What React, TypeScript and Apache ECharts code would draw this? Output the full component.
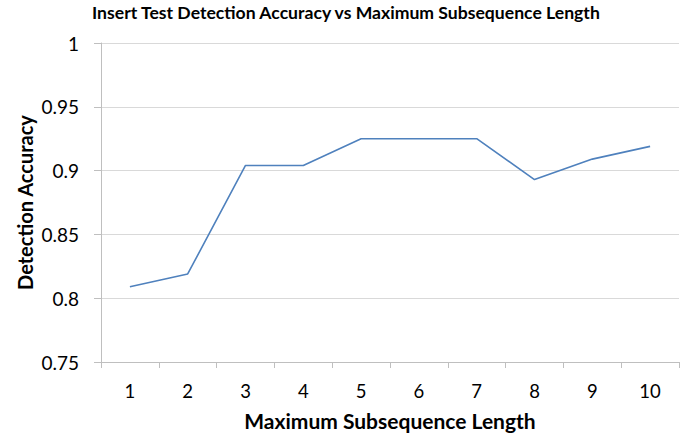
import React, { useEffect, useRef } from "react";
import * as echarts from "echarts";

const categories = ["1", "2", "3", "4", "5", "6", "7", "8", "9", "10"];
const accuracy = [0.809, 0.819, 0.904, 0.904, 0.925, 0.925, 0.925, 0.893, 0.909, 0.919];
const titleText = "Insert Test Detection Accuracy vs Maximum Subsequence Length";
const xName = "Maximum Subsequence Length";
const yName = "Detection Accuracy";

const FONT = "Lato, 'Open Sans', sans-serif";

export default function App() {
  const ref = useRef<HTMLDivElement>(null);
  useEffect(() => {
    if (!ref.current) return;
    const chart = echarts.init(ref.current, undefined, { renderer: "svg" });
    chart.setOption({
      animation: false,
      backgroundColor: "#ffffff",
      title: {
        text: titleText,
        left: 92,
        top: 3,
        padding: 0,
        textStyle: { fontFamily: FONT, fontSize: 17.6, fontWeight: "bold", color: "#000" },
      },
      grid: { left: 101, right: 7, top: 43, bottom: 71, containLabel: false, outerBoundsMode: "none" },
      xAxis: {
        type: "category",
        data: categories,
        boundaryGap: true,
        name: xName,
        nameLocation: "middle",
        nameGap: 48,
        nameMoveOverlap: false,
        nameTextStyle: { fontFamily: FONT, fontSize: 21, fontWeight: "bold", color: "#000" },
        axisLine: { lineStyle: { color: "#bfbfbf" } },
        axisTick: { show: true, length: 6, lineStyle: { color: "#bfbfbf" } },
        axisLabel: { fontFamily: FONT, fontSize: 18.5, color: "#000", margin: 19 },
      },
      yAxis: {
        type: "value",
        min: 0.75,
        max: 1,
        interval: 0.05,
        name: yName,
        nameLocation: "middle",
        nameGap: 66,
        nameMoveOverlap: false,
        nameTextStyle: { fontFamily: FONT, fontSize: 20, fontWeight: "bold", color: "#000" },
        axisLine: { show: true, lineStyle: { color: "#bfbfbf" } },
        axisTick: { show: true, length: 7, lineStyle: { color: "#bfbfbf" } },
        axisLabel: {
          fontFamily: FONT,
          fontSize: 19,
          color: "#000",
          margin: 22,
          formatter: (v: number) => String(parseFloat(v.toFixed(2))),
        },
        splitLine: { lineStyle: { color: "#d9d9d9" } },
      },
      series: [
        {
          type: "line",
          data: accuracy,
          symbol: "none",
          lineStyle: { color: "#4f81bd", width: 1.6 },
        },
      ],
    });
    return () => chart.dispose();
  }, []);
  return <div ref={ref} style={{ width: 686, height: 433, position: "absolute", left: 0, top: 0 }} />;
}
